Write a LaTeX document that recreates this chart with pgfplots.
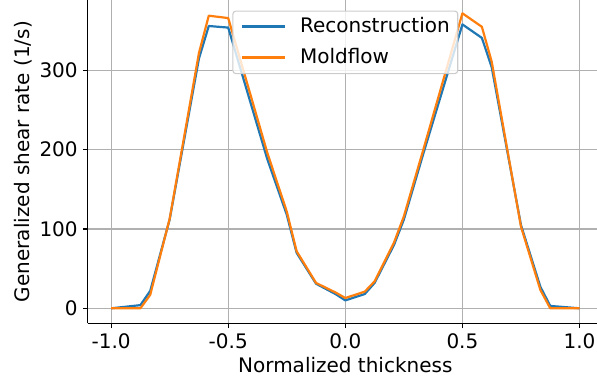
\documentclass[border=0pt]{standalone}
\usepackage{fontspec}
\setmainfont{DejaVu Sans}
\usepackage{pgfplots}
\pgfplotsset{compat=1.18}
\definecolor{mplblue}{HTML}{1F77B4}
\definecolor{mplorange}{HTML}{FF7F0E}
\definecolor{gridgray}{HTML}{B0B0B0}
\definecolor{legendedge}{HTML}{CCCCCC}
\begin{document}
\begin{tikzpicture}
\begin{axis}[
 name=ax,
 scale only axis,
 width=509.3pt, height=323.3pt,
 xmin=-1.1, xmax=1.0746,
 ymin=-18.9, ymax=388.8,
 axis x line*=bottom, axis y line*=left,
 axis line style={-, black, line width=1.1pt},
 xtick={-1,-0.5,0,0.5,1}, xticklabels={-1.0,-0.5,0.0,0.5,1.0},
 ytick={0,100,200,300}, yticklabels={0,100,200,300},
 tick align=outside,
 major tick length=4.9pt,
 every tick/.style={black, line width=1.1pt},
 grid=major,
 major grid style={gridgray, line width=1.1pt},
 tick label style={font=\fontsize{20}{24}\selectfont},
 xticklabel style={inner sep=0pt, yshift=-4.9pt},
 yticklabel style={inner sep=0pt, xshift=-4.9pt},
 label style={font=\fontsize{20}{24}\selectfont},
 xlabel={Normalized thickness},
 ylabel={Generalized shear rate (1/s)},
 xlabel style={at={(axis description cs:0.5058,-0.1537)}, anchor=base},
 ylabel style={at={(axis description cs:-0.1133,0.5)}, anchor=base},
 legend style={at={(axis cs:0,375.5)}, anchor=north, draw=legendedge, line width=1.1pt, rounded corners=3pt, fill=white, fill opacity=0.8, text opacity=1, draw opacity=1, font=\fontsize{20}{24}\selectfont, inner xsep=8pt, inner ysep=6.5pt, row sep=12.5pt, column sep=14pt, nodes={inner sep=0pt, text height=14.5pt, text depth=4pt, anchor=base west}},
 legend cell align=left,
 legend image code/.code={\draw[#1, line width=2.2pt, opacity=1] (0pt,5.5pt) -- (43pt,5.5pt);},
]
\addplot[mplblue, line width=2.2pt, line join=round] coordinates {
(-1,0) (-0.875,4) (-0.833,22) (-0.75,112) (-0.625,315) (-0.583,356) (-0.5,354)
(-0.333,188) (-0.25,118) (-0.208,70) (-0.125,31) (-0.042,18) (0,10)
(0.083,18) (0.125,32) (0.208,80) (0.25,112) (0.333,195) (0.5,358)
(0.583,341) (0.625,304) (0.75,105) (0.833,27) (0.875,3) (1.0,0)
};
\addlegendentry{Reconstruction}
\addplot[mplorange, line width=2.2pt, line join=round] coordinates {
(-1,0) (-0.875,0) (-0.833,17) (-0.75,113) (-0.625,322) (-0.583,369) (-0.5,366)
(-0.333,196) (-0.25,122) (-0.208,72) (-0.125,32) (-0.042,20) (0,13)
(0.083,21) (0.125,34) (0.208,83) (0.25,116) (0.333,200) (0.5,372)
(0.583,355) (0.625,311) (0.75,103) (0.833,23) (0.875,0) (1.0,0)
};
\addlegendentry{Moldflow}
\end{axis}
\pgfresetboundingbox
\path[use as bounding box] ([xshift=-87.7pt,yshift=-61.7pt]ax.south west) rectangle (ax.north east);
\end{tikzpicture}
\end{document}
